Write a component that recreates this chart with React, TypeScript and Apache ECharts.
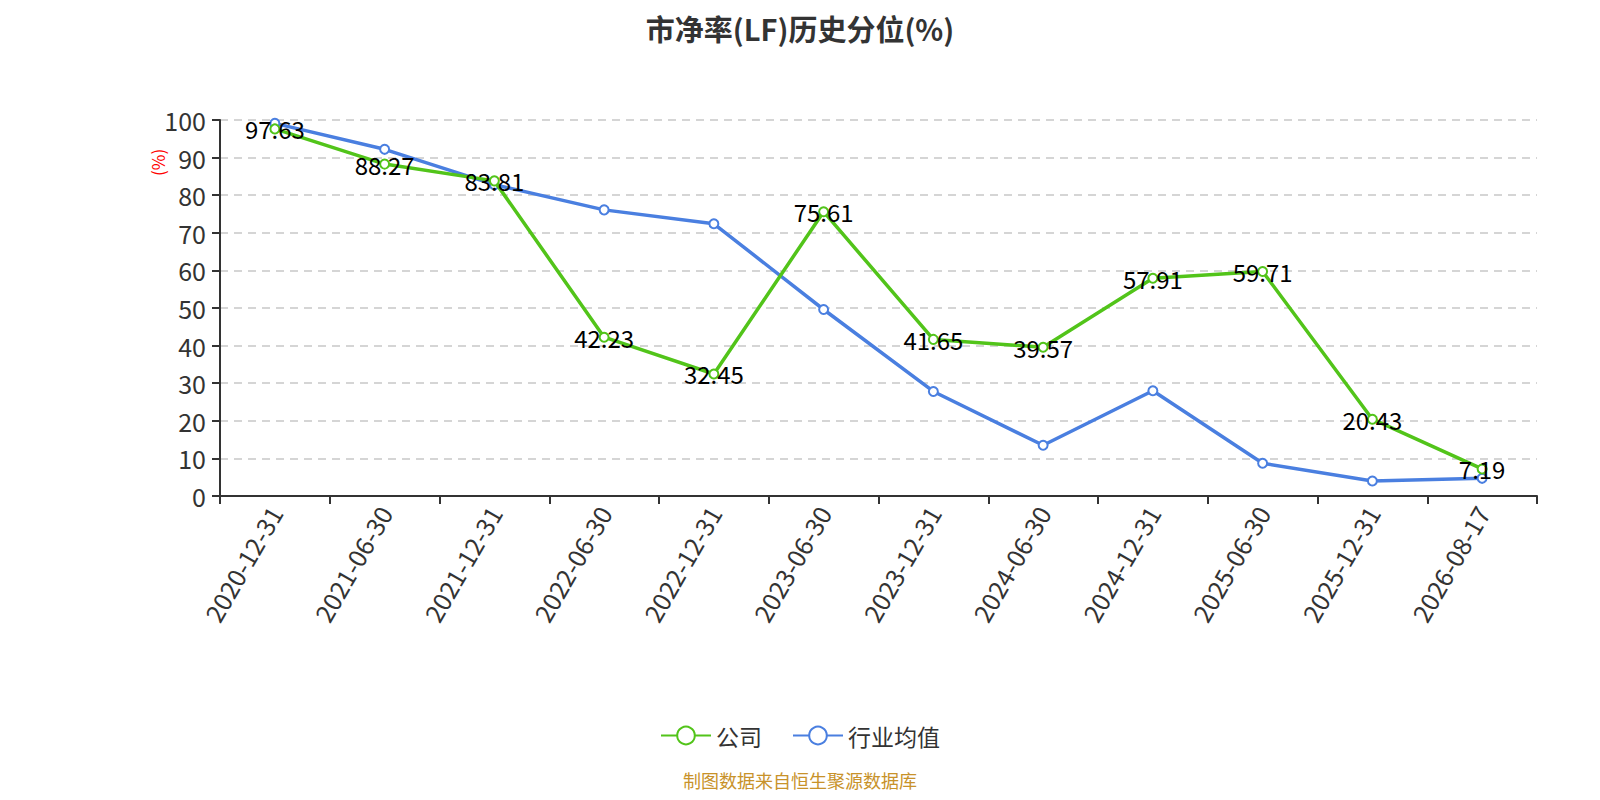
import React, { useEffect, useRef } from "react";
import * as echarts from "echarts";

const categories = [
  "2020-12-31", "2021-06-30", "2021-12-31", "2022-06-30", "2022-12-31", "2023-06-30",
  "2023-12-31", "2024-06-30", "2024-12-31", "2025-06-30", "2025-12-31", "2026-08-17",
];
const companyValues = [97.63, 88.27, 83.81, 42.23, 32.45, 75.61, 41.65, 39.57, 57.91, 59.71, 20.43, 7.19];
const industryValues = [99.1, 92.2, 82.8, 76.1, 72.4, 49.6, 27.8, 13.5, 28.0, 8.7, 4.0, 4.7];
const yTicks = { min: 0, max: 100, interval: 10 };

const FONT = "'Microsoft YaHei', 'Noto Sans CJK SC', sans-serif";

export default function App() {
  const ref = useRef<HTMLDivElement>(null);
  useEffect(() => {
    if (!ref.current) return;
    const chart = echarts.init(ref.current, undefined, { renderer: "svg" });
    chart.setOption({
      animation: false,
      textStyle: { fontFamily: FONT },
      title: {
        text: "市净率(LF)历史分位(%)",
        left: "center",
        top: 5,
        padding: [0, 0, 0, 0],
        textStyle: { fontSize: 29, fontWeight: "bold", color: "#333", fontFamily: FONT, lineHeight: 29 },
      },
      legend: {
        bottom: 40,
        left: "center",
        itemWidth: 50,
        itemHeight: 22,
        itemGap: 30,
        textStyle: { fontSize: 23, color: "#333", fontFamily: FONT },
        data: ["公司", "行业均值"],
      },
      grid: { left: 212, right: 55, top: 112, bottom: 296, containLabel: false },
      xAxis: {
        type: "category",
        data: categories,
        boundaryGap: true,
        axisLine: { lineStyle: { color: "#333", width: 2 } },
        axisTick: { show: true, length: 8, lineStyle: { color: "#333", width: 2 } },
        axisLabel: { rotate: 60, fontSize: 25, color: "#333", margin: 12, interval: 0, fontFamily: FONT },
      },
      yAxis: {
        type: "value",
        min: yTicks.min,
        max: yTicks.max,
        interval: yTicks.interval,
        axisLine: { show: true, lineStyle: { color: "#333", width: 2 } },
        axisTick: { show: true, length: 8, lineStyle: { color: "#333", width: 2 } },
        axisLabel: { fontSize: 25, color: "#333", margin: 14, fontFamily: FONT },
        splitLine: { show: true, lineStyle: { type: [8, 6], color: "#c8c8c8", width: 1.5 } },
      },
      graphic: [
        {
          type: "text",
          x: 141,
          y: 168,
          rotation: Math.PI / 2,
          style: { text: "(%)", fill: "#ff0000", fontSize: 17, fontFamily: FONT },
        },
        {
          type: "text",
          left: "center",
          top: 763,
          style: { text: "制图数据来自恒生聚源数据库", fill: "#c8922a", fontSize: 18, fontFamily: FONT },
        },
      ],
      series: [
        {
          name: "公司",
          type: "line",
          data: companyValues,
          color: "#52c41a",
          symbol: "emptyCircle",
          symbolSize: 9,
          lineStyle: { width: 3.5, color: "#52c41a" },
          itemStyle: { color: "#52c41a", borderWidth: 1.5 },
          label: {
            show: true,
            position: "inside",
            fontSize: 24,
            color: "#000",
            fontFamily: FONT,
          },
          z: 3,
        },
        {
          name: "行业均值",
          type: "line",
          data: industryValues,
          color: "#4a7fe0",
          symbol: "emptyCircle",
          symbolSize: 9,
          lineStyle: { width: 3.5, color: "#4a7fe0" },
          itemStyle: { color: "#4a7fe0", borderWidth: 1.5 },
          label: { show: false },
          z: 2,
        },
      ],
    });
    return () => chart.dispose();
  }, []);
  return <div ref={ref} style={{ width: 1584, height: 784 }} />;
}
